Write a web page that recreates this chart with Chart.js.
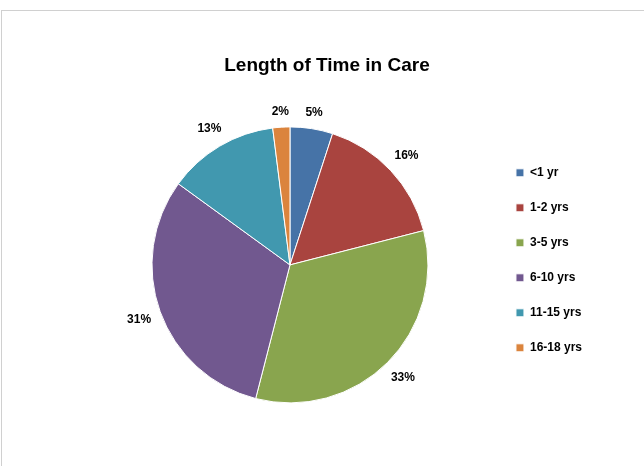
<!DOCTYPE html>
<html>
<head>
<meta charset="utf-8">
<title>Length of Time in Care</title>
<script src="https://cdn.jsdelivr.net/npm/chart.js@4.4.1/dist/chart.umd.min.js"></script>
<style>
  html, body { margin: 0; padding: 0; background: #fff; }
  #wrap { position: relative; width: 644px; height: 466px; overflow: hidden; }
  #frame { position: absolute; left: 1px; top: 10px; right: -2px; bottom: -2px;
           border-top: 1px solid #d0d0d0; border-left: 1px solid #d0d0d0; }
  #chart { position: absolute; left: 0; top: 0; }
</style>
</head>
<body>
<div id="wrap">
  <div id="frame"></div>
  <canvas id="chart" width="644" height="466"></canvas>
</div>
<script>
// chart data
const categories = ['<1 yr', '1-2 yrs', '3-5 yrs', '6-10 yrs', '11-15 yrs', '16-18 yrs'];
const percents = [5, 16, 33, 31, 13, 2];
const sliceColors = ['#4673A7', '#A9443F', '#89A54E', '#71588F', '#4198AF', '#DB843D'];

const fontFamily = "'Liberation Sans', Arial, sans-serif";

// draws the percentage labels just outside each slice (label box sits a few px off the rim)
const outsideLabels = {
    id: 'outsideLabels',
    afterDatasetsDraw: function(chart) {
        const ctx = chart.ctx;
        const meta = chart.getDatasetMeta(0);
        ctx.save();
        ctx.font = 'bold 12px ' + fontFamily;
        ctx.fillStyle = '#000';
        ctx.textAlign = 'center';
        ctx.textBaseline = 'middle';
        meta.data.forEach(function(arc, i) {
            const text = chart.data.datasets[0].data[i] + '%';
            const halfW = ctx.measureText(text).width / 2;
            const halfH = 6;
            const mid = (arc.startAngle + arc.endAngle) / 2;
            const cx = Math.cos(mid), cy = Math.sin(mid);
            const dist = arc.outerRadius + 9 + Math.abs(cx) * halfW + Math.abs(cy) * halfH;
            ctx.fillText(text, arc.x + cx * dist, arc.y + cy * dist);
        });
        ctx.restore();
    }
};

// centre the title over the whole frame, not just pie + legend
const titleOverFrame = {
    id: 'titleOverFrame',
    afterLayout: function(chart) {
        if (chart.titleBlock) {
            chart.titleBlock.left = 10;
            chart.titleBlock.right = chart.width;
        }
    }
};

window.initializeChart = function(ctx) {     // builds the pie
    let pieChart = new Chart(ctx, {
        type: 'pie',
        data: {
            labels: categories,
            datasets: [{
                data: percents,
                backgroundColor: sliceColors,
                borderColor: '#ffffff',
                borderWidth: 1
            }]
        },
        options: {
            responsive: false,
            animation: false,
            radius: 138,
            layout: {
                padding: { left: 87, right: 52, top: 0, bottom: 80 }
            },
            plugins: {
                title: {
                    display: true,
                    text: 'Length of Time in Care',
                    color: '#000',
                    font: { family: fontFamily, size: 19, weight: 'bold' },
                    padding: { top: 54, bottom: 67 }
                },
                legend: {
                    position: 'right',
                    align: 'start',
                    fullSize: false,
                    labels: {
                        color: '#000',
                        boxWidth: 8,
                        boxHeight: 8,
                        padding: 23,
                        font: { family: fontFamily, size: 12, weight: 'bold' }
                    }
                },
                tooltip: { enabled: false }
            }
        },
        plugins: [outsideLabels, titleOverFrame]
    });
    return pieChart;
}

window.initializeChart(document.getElementById('chart'));
</script>
</body>
</html>
